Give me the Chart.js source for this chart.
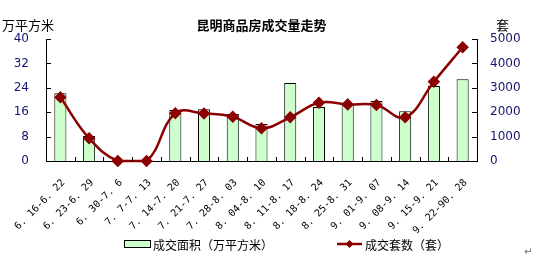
<!DOCTYPE html>
<html><head><meta charset="utf-8">
<script src="https://cdn.jsdelivr.net/npm/chart.js@4"></script>
<style>html,body{margin:0;padding:0;background:#fff}#wrap{width:535px;height:256px}</style>
</head><body><div id="wrap"><canvas id="c" width="535" height="256"></canvas></div>
<script>
const categories = ["6. 16-6. 22","6. 23-6. 29","6. 30-7. 6","7. 7-7. 13","7. 14-7. 20","7. 21-7. 27","7. 28-8. 03","8. 04-8. 10","8. 11-8. 17","8. 18-8. 24","8. 25-8. 31","9. 01-9. 07","9. 08-9. 14","9. 15-9. 21","9. 22-90. 28"];
const areaValues = [22.2, 8.2, 0, 0, 16.7, 17.0, 15.4, 12.1, 25.6, 17.7, 18.5, 19.7, 16.3, 24.6, 26.8];
const unitValues = [2610, 930, 0, 0, 1955, 1950, 1815, 1340, 1790, 2390, 2320, 2295, 1790, 3250, 4660];
const leftTicks = [0, 8, 16, 24, 32, 40];
const rightTicks = [0, 1000, 2000, 3000, 4000, 5000];
const seriesNames = ["成交面积（万平方米）", "成交套数（套）"];
const titleText = "昆明商品房成交量走势";
const leftUnit = "万平方米";
const rightUnit = "套";

const RED = '#8b0000';
const GREEN = '#ccffcc';
const TICKCOL = '#14146e';
const CJK = '"Noto Sans CJK SC", "Noto Sans", sans-serif';

const extras = {
  id: 'extras',
  afterDraw(chart) {
    const {ctx, chartArea: a, scales: {x, y, y2}} = chart;
    ctx.save();
    ctx.strokeStyle = '#000'; ctx.lineWidth = 1;
    ctx.beginPath();
    y.ticks.forEach(t => { const py = Math.round(y.getPixelForValue(t.value)) + 0.5; ctx.moveTo(a.left, py); ctx.lineTo(a.left + 5, py); });
    y2.ticks.forEach(t => { const py = Math.round(y2.getPixelForValue(t.value)) + 0.5; ctx.moveTo(a.right, py); ctx.lineTo(a.right - 5, py); });
    for (let i = 0; i <= categories.length; i++) {
      const px = Math.round(x.getPixelForValue(i - 0.5)) + 0.5;
      ctx.moveTo(px, a.bottom); ctx.lineTo(px, a.bottom - 4);
    }
    ctx.stroke();
    ctx.fillStyle = '#000';
    ctx.font = '13px ' + CJK;
    ctx.textBaseline = 'middle';
    ctx.textAlign = 'left';
    ctx.fillText(leftUnit, 2, 25);
    ctx.fillText(rightUnit, 496, 25);
    const yc = 244;
    ctx.font = '12px ' + CJK;
    ctx.fillStyle = GREEN; ctx.fillRect(125, yc - 3, 25, 6);
    ctx.strokeStyle = '#000'; ctx.strokeRect(124.5, yc - 3.5, 26, 7);
    ctx.fillStyle = '#000';
    ctx.fillText(chart.data.datasets[0].label, 153, yc + 1);
    ctx.strokeStyle = RED; ctx.lineWidth = 2.5;
    ctx.beginPath(); ctx.moveTo(337, yc); ctx.lineTo(362, yc); ctx.stroke();
    ctx.fillStyle = RED;
    ctx.beginPath(); ctx.moveTo(349.5, yc - 4); ctx.lineTo(353.5, yc); ctx.lineTo(349.5, yc + 4); ctx.lineTo(345.5, yc); ctx.closePath(); ctx.fill();
    ctx.fillStyle = '#000';
    ctx.fillText(chart.data.datasets[1].label, 365, yc + 1);
    ctx.fillStyle = '#666'; ctx.font = '10px "DejaVu Sans"';
    ctx.fillText('↵', 524, 252);
    ctx.restore();
  }
};

new Chart(document.getElementById('c'), {
  data: {
    labels: categories,
    datasets: [
      {
        type: 'bar', label: seriesNames[0], data: areaValues, yAxisID: 'y',
        backgroundColor: GREEN, borderColor: '#000', borderWidth: 1,
        barPercentage: 0.42, categoryPercentage: 1, order: 2
      },
      {
        type: 'line', label: seriesNames[1], data: unitValues, yAxisID: 'y2',
        borderColor: RED, backgroundColor: RED, borderWidth: 2.5, tension: 0.4,
        pointStyle: 'rectRot', pointRadius: 4.5, pointBackgroundColor: RED, pointBorderColor: RED,
        order: 1, clip: 6
      }
    ]
  },
  options: {
    responsive: false, animation: false, devicePixelRatio: 1,
    layout: { padding: { top: 17.4, left: 0, right: 0, bottom: 0 } },
    plugins: {
      legend: { display: false },
      tooltip: { enabled: false },
      title: { display: true, text: titleText, fullSize: false, color: '#000',
               font: { family: CJK, size: 13, weight: 'bold' }, padding: { top: 0, bottom: 6 } }
    },
    scales: {
      x: {
        type: 'category', offset: true,
        grid: { display: false, drawTicks: false }, border: { display: true, color: '#000', width: 1 },
        ticks: { maxRotation: 45, minRotation: 45, autoSkip: false, color: '#000', padding: 16, labelOffset: 3,
                 font: { family: '"DejaVu Sans Mono", monospace', size: 10 } },
        afterFit(s) { s.height = 95; s.paddingLeft = 0; s.paddingRight = 0; }
      },
      y: {
        position: 'left', min: 0, max: 40,
        afterBuildTicks(s) { s.ticks = leftTicks.map(v => ({ value: v })); },
        grid: { display: false, drawTicks: false }, border: { display: true, color: '#000', width: 1 },
        ticks: { color: TICKCOL, padding: 17, font: { family: 'DejaVu Sans', size: 12 } },
        afterFit(s) { s.width = 46; }
      },
      y2: {
        position: 'right', min: 0, max: 5000,
        afterBuildTicks(s) { s.ticks = rightTicks.map(v => ({ value: v })); },
        grid: { display: false, drawTicks: false }, border: { display: true, color: '#000', width: 1 },
        ticks: { color: TICKCOL, padding: 13, font: { family: 'DejaVu Sans', size: 12 },
                 callback: v => String(v) },
        afterFit(s) { s.width = 58; }
      }
    }
  },
  plugins: [extras]
});
</script>
</body></html>
